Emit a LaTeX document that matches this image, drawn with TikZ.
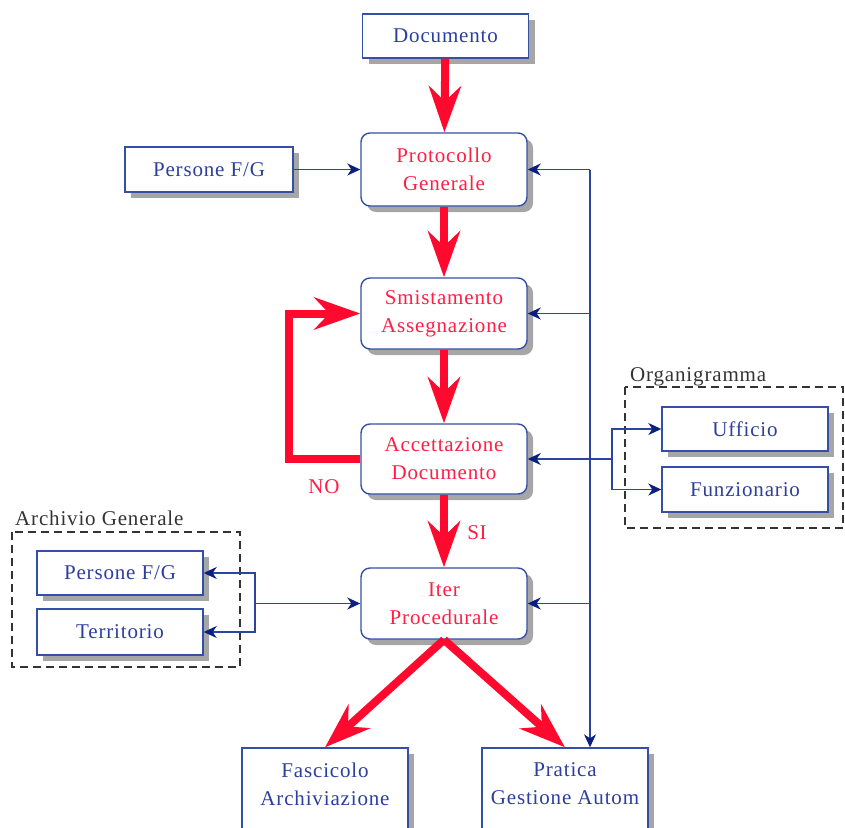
\documentclass[tikz,border=0pt]{standalone}
\usepackage{fontspec}
\setmainfont{Liberation Serif}[LetterSpace=4]
\usetikzlibrary{arrows.meta,shadows,calc}
\definecolor{bbord}{HTML}{3450A6}
\definecolor{btext}{HTML}{2D3F9E}
\definecolor{rtext}{HTML}{FF1E44}
\definecolor{rarrow}{HTML}{FF0A2E}
\definecolor{bline}{HTML}{2A44A0}
\definecolor{barr}{HTML}{0A2080}
\definecolor{glabel}{HTML}{333333}
\tikzset{
  box/.style={draw=bbord, line width=1.4pt, fill=white, minimum width=166pt,
    text=btext, align=center, inner sep=2pt,
    font=\fontsize{21}{28}\selectfont,
    drop shadow={shadow xshift=6pt, shadow yshift=-6pt, fill=gray!70, opacity=1}},
  rbox/.style={box, rounded corners=9pt, text=rtext, minimum height=71pt},
  sbox/.style={box, minimum height=44pt},
  tbox/.style={box, minimum height=94pt, text depth=22pt},
  redarrow/.style={draw=rarrow, line width=8pt, line join=miter,
    -{Stealth[length=46pt,width=32pt,inset=15pt]}},
  bluearrow/.style={draw=bline, line width=1.6pt,
    -{Stealth[length=13pt,width=12pt,inset=4pt,color=barr]}},
  grouplabel/.style={text=glabel, anchor=base west, inner sep=0pt,
    font=\fontsize{21}{24}\selectfont},
  groupbox/.style={draw=glabel, line width=1.8pt, dash pattern=on 8pt off 5pt},
  redlabel/.style={text=rtext, font=\fontsize{21}{24}\selectfont, inner sep=0pt}
}
\begin{document}
\begin{tikzpicture}[x=1pt,y=-1pt]
\useasboundingbox (0,0) rectangle (845,827);
% group frames
\draw[groupbox] (625,387) rectangle (843,528);
\node[grouplabel] (orglab) at (630,381) {Organigramma};
\draw[groupbox] (12,532) rectangle (240,667);
\node[grouplabel] (arclab) at (15,525) {Archivio Generale};
% main nodes
\node[sbox, text depth=0pt] (doc) at (445.5,36) {Documento};
\node[rbox, minimum height=73pt] (prot) at (444,169.5) {Protocollo\\Generale};
\node[sbox, minimum width=168pt, minimum height=45pt] (perst) at (209,169.5) {Persone F/G};
\node[rbox] (smist) at (444,313.5) {Smistamento\\Assegnazione};
\node[rbox, minimum height=70pt] (acc) at (444,459) {Accettazione\\Documento};
\node[rbox] (iter) at (444,603.5) {Iter\\Procedurale};
\node[tbox] (fasc) at (325,795) {Fascicolo\\Archiviazione};
\node[tbox] (prat) at (565,795) {Pratica\\Gestione Autom};
\node[sbox] (uff) at (745,429) {Ufficio};
\node[sbox, minimum height=45pt] (funz) at (745,489.5) {Funzionario};
\node[sbox] (persa) at (120,573) {Persone F/G};
\node[sbox, minimum height=46pt] (terr) at (120,632) {Territorio};
% red flow
\draw[redarrow] (doc) -- (prot);
\draw[redarrow] (prot) -- (smist);
\draw[redarrow] (smist) -- (acc);
\draw[redarrow] (acc) -- (iter);
\draw[redarrow] (acc.west) -- ++(-71,0) |- (smist.west);
\draw[redarrow] (iter.south) -- (fasc.north);
\draw[redarrow] (iter.south) -- (prat.north);
\node[redlabel] (si) at (477,533) {SI};
\node[redlabel] (no) at (324,487) {NO};
% blue bus
\coordinate (b1) at (590,169.5);
\coordinate (b2) at (590,313.5);
\coordinate (b4) at (590,603.5);
\draw[bluearrow] (b1) -- (b1 |- prat.north);
\draw[bluearrow] (b1) -- (prot.east);
\draw[bluearrow] (b2) -- (smist.east);
\draw[bluearrow] (b4) -- (iter.east);
\draw[bluearrow] (perst) -- (prot);
% organigramma links
\coordinate (oj) at (612,459);
\draw[bluearrow] (oj) -- (acc.east);
\draw[bluearrow] (oj) |- (uff.west);
\draw[bluearrow] (oj) |- (funz.west);
% archive links
\coordinate (aj) at (255,603.5);
\draw[bluearrow] (aj) -- (iter.west);
\draw[bluearrow] (aj) |- (persa.east);
\draw[bluearrow] (aj) |- (terr.east);
\end{tikzpicture}
\end{document}
